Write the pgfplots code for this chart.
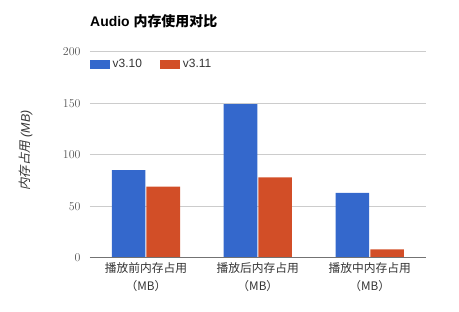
\documentclass[border=0pt]{standalone}
\usepackage{fontspec}
\usepackage{pgfplots}
\pgfplotsset{compat=1.18}
\setmainfont{Liberation Sans}
\newfontfamily\cjk{Noto Sans CJK SC}
\newfontfamily\cjki[FakeSlant=0.2]{Noto Sans CJK SC}
\definecolor{gblue}{HTML}{3468CC}
\definecolor{gred}{HTML}{D24E27}
\definecolor{tick}{HTML}{555555}
\begin{document}
\begin{tikzpicture}
\useasboundingbox (-90bp,-54.3bp) rectangle (369bp,257.7bp);
\begin{axis}[
  at={(0,0)}, anchor=south west,
  scale only axis, width=335.7bp, height=206bp,
  xmin=-0.5, xmax=2.5, ymin=0, ymax=200,
  ybar, bar width=33.6bp,
  axis line style={draw=none},
  ytick={0,50,100,150,200},
  ymajorgrids, grid style={draw=black!20, line width=0.8bp},
  major tick length=0pt,
  xtick={0,1,2},
  xticklabels={{\cjk 播放前内存占用\\\cjk （MB）},{\cjk 播放后内存占用\\\cjk （MB）},{\cjk 播放中内存占用\\\cjk （MB）}},
  xticklabel style={align=center, font=\fontsize{11.8}{18}\selectfont, text=black!80, yshift=-1bp},
  yticklabel style={font=\fontsize{12}{13}\selectfont, text=tick, xshift=-6bp},
  ylabel={{\cjki 内存占用} {\itshape (MB)}},
  ylabel style={at={(axis description cs:-0.191,0.52)}, anchor=center, font=\fontsize{12.5}{14}\selectfont, text=black!80},
  title={\bfseries Audio {\cjk\bfseries 内存使用对比}},
  title style={at={(axis description cs:0,1.117)}, anchor=west, inner sep=0pt, font=\fontsize{14}{16}\selectfont},
  legend columns=2,
  legend style={draw=none, fill=none, at={(axis description cs:0,0.975)}, anchor=north west, inner sep=0pt,
    font=\fontsize{12}{13}\selectfont, text=black!80,
    /tikz/every even column/.append style={column sep=16bp},
    nodes={inner sep=2.5bp}},
  legend image code/.code={\fill[#1] (0bp,-4.5bp) rectangle (20bp,4.5bp);},
  clip=false,
]
\addplot[fill=gblue, draw=none, bar shift=-0.155] coordinates {(0,85) (1,149) (2,63)};
\addplot[fill=gred, draw=none, bar shift=0.155] coordinates {(0,69) (1,78) (2,8)};
\legend{v3.10, v3.11}
\draw[black!55, line width=1bp] (axis cs:-0.5,0) -- (axis cs:2.5,0);
\end{axis}
\end{tikzpicture}
\end{document}
